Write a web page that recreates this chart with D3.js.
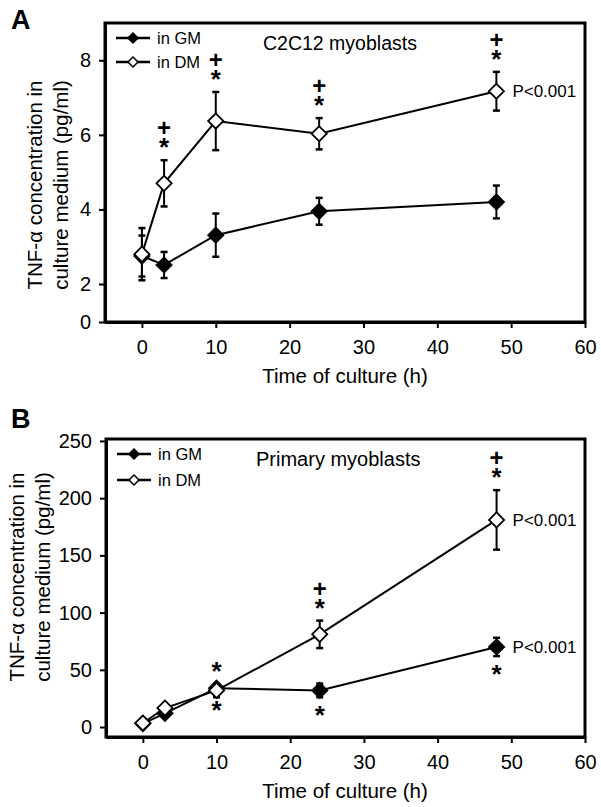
<!DOCTYPE html>
<html><head><meta charset="utf-8">
<script src="https://cdn.jsdelivr.net/npm/d3@7/dist/d3.min.js"></script>
<style>body{margin:0;background:#fff}svg{display:block;font-family:"Liberation Sans",Arial,sans-serif}</style>
</head><body>
<svg id="c" width="601" height="807"></svg>
<script>
// ---- data ----
const times = [0, 3, 10, 24, 48];
const xTicks = [0, 10, 20, 30, 40, 50, 60];

const gmA = [2.75, 2.51, 3.31, 3.95, 4.2];
const gmErrA = [0.55, 0.35, 0.58, 0.36, 0.44];
const dmA = [2.8, 4.7, 6.37, 6.03, 7.17];
const dmErrA = [0.7, 0.62, 0.78, 0.42, 0.52];
const yTicksA = [0, 2, 4, 6, 8];
const dmSigA = ["", "+*", "+*", "+*", "+*"];
const gmSigA = ["", "", "", "", ""];

const gmB = [3, 12, 34, 32, 70];
const gmErrB = [1.5, 2, 3, 6, 8];
const dmB = [3.5, 16.6, 32, 81, 181];
const dmErrB = [1.5, 2.5, 6, 12, 26];
const yTicksB = [0, 50, 100, 150, 200, 250];
const dmSigB = ["", "", "*", "+*", "+*"];
const gmSigB = ["", "", "*", "*", "*"];

const svg = d3.select("#c");

function panel(o) {
  const g = svg.append("g");
  const x = d3.scaleLinear().domain([-5, 60]).range([o.left, 585]);
  const y = d3.scaleLinear().domain(o.yDomain).range(o.yRange);
  const top = o.yRange[o.yRange.length - 1], bottom = o.yRange[0];

  // frame
  g.append("rect").attr("x", o.left).attr("y", top).attr("width", 585 - o.left).attr("height", bottom - top)
    .attr("fill", "none").attr("stroke", "#000").attr("stroke-width", 3);

  // axes
  const xa = g.append("g").attr("transform", `translate(0,${bottom})`)
    .call(d3.axisBottom(x).tickValues(xTicks).tickSize(6).tickPadding(12).tickSizeOuter(0));
  const ya = g.append("g").attr("transform", `translate(${o.left},0)`)
    .call(d3.axisLeft(y).tickValues(o.yTicks).tickSize(6).tickPadding(8).tickSizeOuter(0));
  [xa, ya].forEach(a => {
    a.select(".domain").attr("stroke-width", 3);
    a.selectAll(".tick line").attr("stroke-width", 2);
    a.selectAll("text").attr("font-size", 20).attr("fill", "#000").attr("font-family", "Liberation Sans, Arial, sans-serif");
  });

  // titles
  g.append("text").attr("x", 345).attr("y", bottom + 61).attr("text-anchor", "middle")
    .attr("font-size", 20.5).text("Time of culture (h)");
  const yc = o.yTitleY;
  g.append("text").attr("transform", `translate(${o.yTitleX[0]},${yc}) rotate(-90)`).attr("text-anchor", "middle")
    .attr("font-size", 20.5).text("TNF-α concentration in");
  g.append("text").attr("transform", `translate(${o.yTitleX[1]},${yc}) rotate(-90)`).attr("text-anchor", "middle")
    .attr("font-size", 20.5).text("culture medium (pg/ml)");
  g.append("text").attr("x", 11).attr("y", o.letterY).attr("font-size", 27).attr("font-weight", "bold").text(o.letter);
  g.append("text").attr("x", o.titleX).attr("y", o.titleY).attr("font-size", o.titleSize).text(o.title);

  const line = d3.line().x((d, i) => x(times[i])).y(d => y(d));
  const sym = d3.symbol(d3.symbolSquare, 115);
  const symL = d3.symbol(d3.symbolSquare, 50);

  function series(vals, errs, fill) {
    g.append("path").datum(vals).attr("d", line).attr("fill", "none").attr("stroke", "#000").attr("stroke-width", 2);
    const eb = g.append("g");
    vals.forEach((v, i) => {
      const cx = x(times[i]);
      const y1 = y(v + errs[i]), y0 = y(v - errs[i]);
      eb.append("line").attr("x1", cx).attr("x2", cx).attr("y1", y1).attr("y2", y0).attr("stroke", "#000").attr("stroke-width", 2);
      [y1, y0].forEach(yy => eb.append("line").attr("x1", cx - 3.5).attr("x2", cx + 3.5).attr("y1", yy).attr("y2", yy)
        .attr("stroke", "#000").attr("stroke-width", 2.5));
    });
    vals.forEach((v, i) => {
      g.append("path").attr("d", sym).attr("transform", `translate(${x(times[i])},${y(v)}) rotate(45)`)
        .attr("fill", fill).attr("stroke", "#000").attr("stroke-width", 1.8);
    });
  }
  series(o.gm, o.gmErr, "#000");
  series(o.dm, o.dmErr, "#fff");

  // significance marks (one text element per point)
  function sig(vals, errs, marks, above) {
    vals.forEach((v, i) => {
      const m = marks[i]; if (!m) return;
      const cx = x(times[i]);
      const t = g.append("text").attr("text-anchor", "middle").attr("font-weight", "bold");
      if (above) {
        const yt = y(v + errs[i]);
        if (m.includes("+")) {
          t.append("tspan").attr("x", cx).attr("y", yt - 24).attr("font-size", 24).text("+");
        }
        t.append("tspan").attr("x", cx).attr("y", yt - 4).attr("font-size", 26).text("*");
      } else {
        const yb = y(v - errs[i]);
        t.append("tspan").attr("x", cx).attr("y", yb + 27).attr("font-size", 26).text("*");
      }
    });
  }
  sig(o.dm, o.dmErr, o.dmSig, true);
  sig(o.gm, o.gmErr, o.gmSig, false);

  o.pLabels.forEach(k => {
    const vals = k === "dm" ? o.dm : o.gm;
    g.append("text").attr("x", x(48) + 16).attr("y", y(vals[4])).attr("dy", "0.35em").attr("font-size", 17).text("P<0.001");
  });

  // legend
  [["in GM", "#000"], ["in DM", "#fff"]].forEach((d, i) => {
    const ly = o.legendY + i * o.legendGap;
    g.append("line").attr("x1", o.left + 11).attr("x2", o.left + 45).attr("y1", ly).attr("y2", ly).attr("stroke", "#000").attr("stroke-width", 2.5);
    g.append("path").attr("d", symL).attr("transform", `translate(${o.left + 28},${ly}) rotate(45)`)
      .attr("fill", d[1]).attr("stroke", "#000").attr("stroke-width", 1.5);
    g.append("text").attr("x", o.left + 52).attr("y", ly).attr("dy", "0.35em").attr("font-size", 16.5).text(d[0]);
  });
}

panel({
  left: 105, yDomain: [0, 2, 9], yRange: [322, 284, 23], yTicks: yTicksA,
  gm: gmA, gmErr: gmErrA, dm: dmA, dmErr: dmErrA, dmSig: dmSigA, gmSig: gmSigA,
  pLabels: ["dm"], letter: "A", letterY: 29, title: "C2C12 myoblasts", titleX: 263, titleY: 50, titleSize: 19.5,
  legendY: 38, legendGap: 24, yTitleY: 185, yTitleX: [42, 68]
});
panel({
  left: 106, yDomain: [-8.7, 251.7], yRange: [737, 439], yTicks: yTicksB,
  gm: gmB, gmErr: gmErrB, dm: dmB, dmErr: dmErrB, dmSig: dmSigB, gmSig: gmSigB,
  pLabels: ["dm", "gm"], letter: "B", letterY: 428, title: "Primary myoblasts", titleX: 256, titleY: 466, titleSize: 20,
  legendY: 454, legendGap: 26, yTitleY: 577, yTitleX: [24, 50]
});
</script>
</body></html>
